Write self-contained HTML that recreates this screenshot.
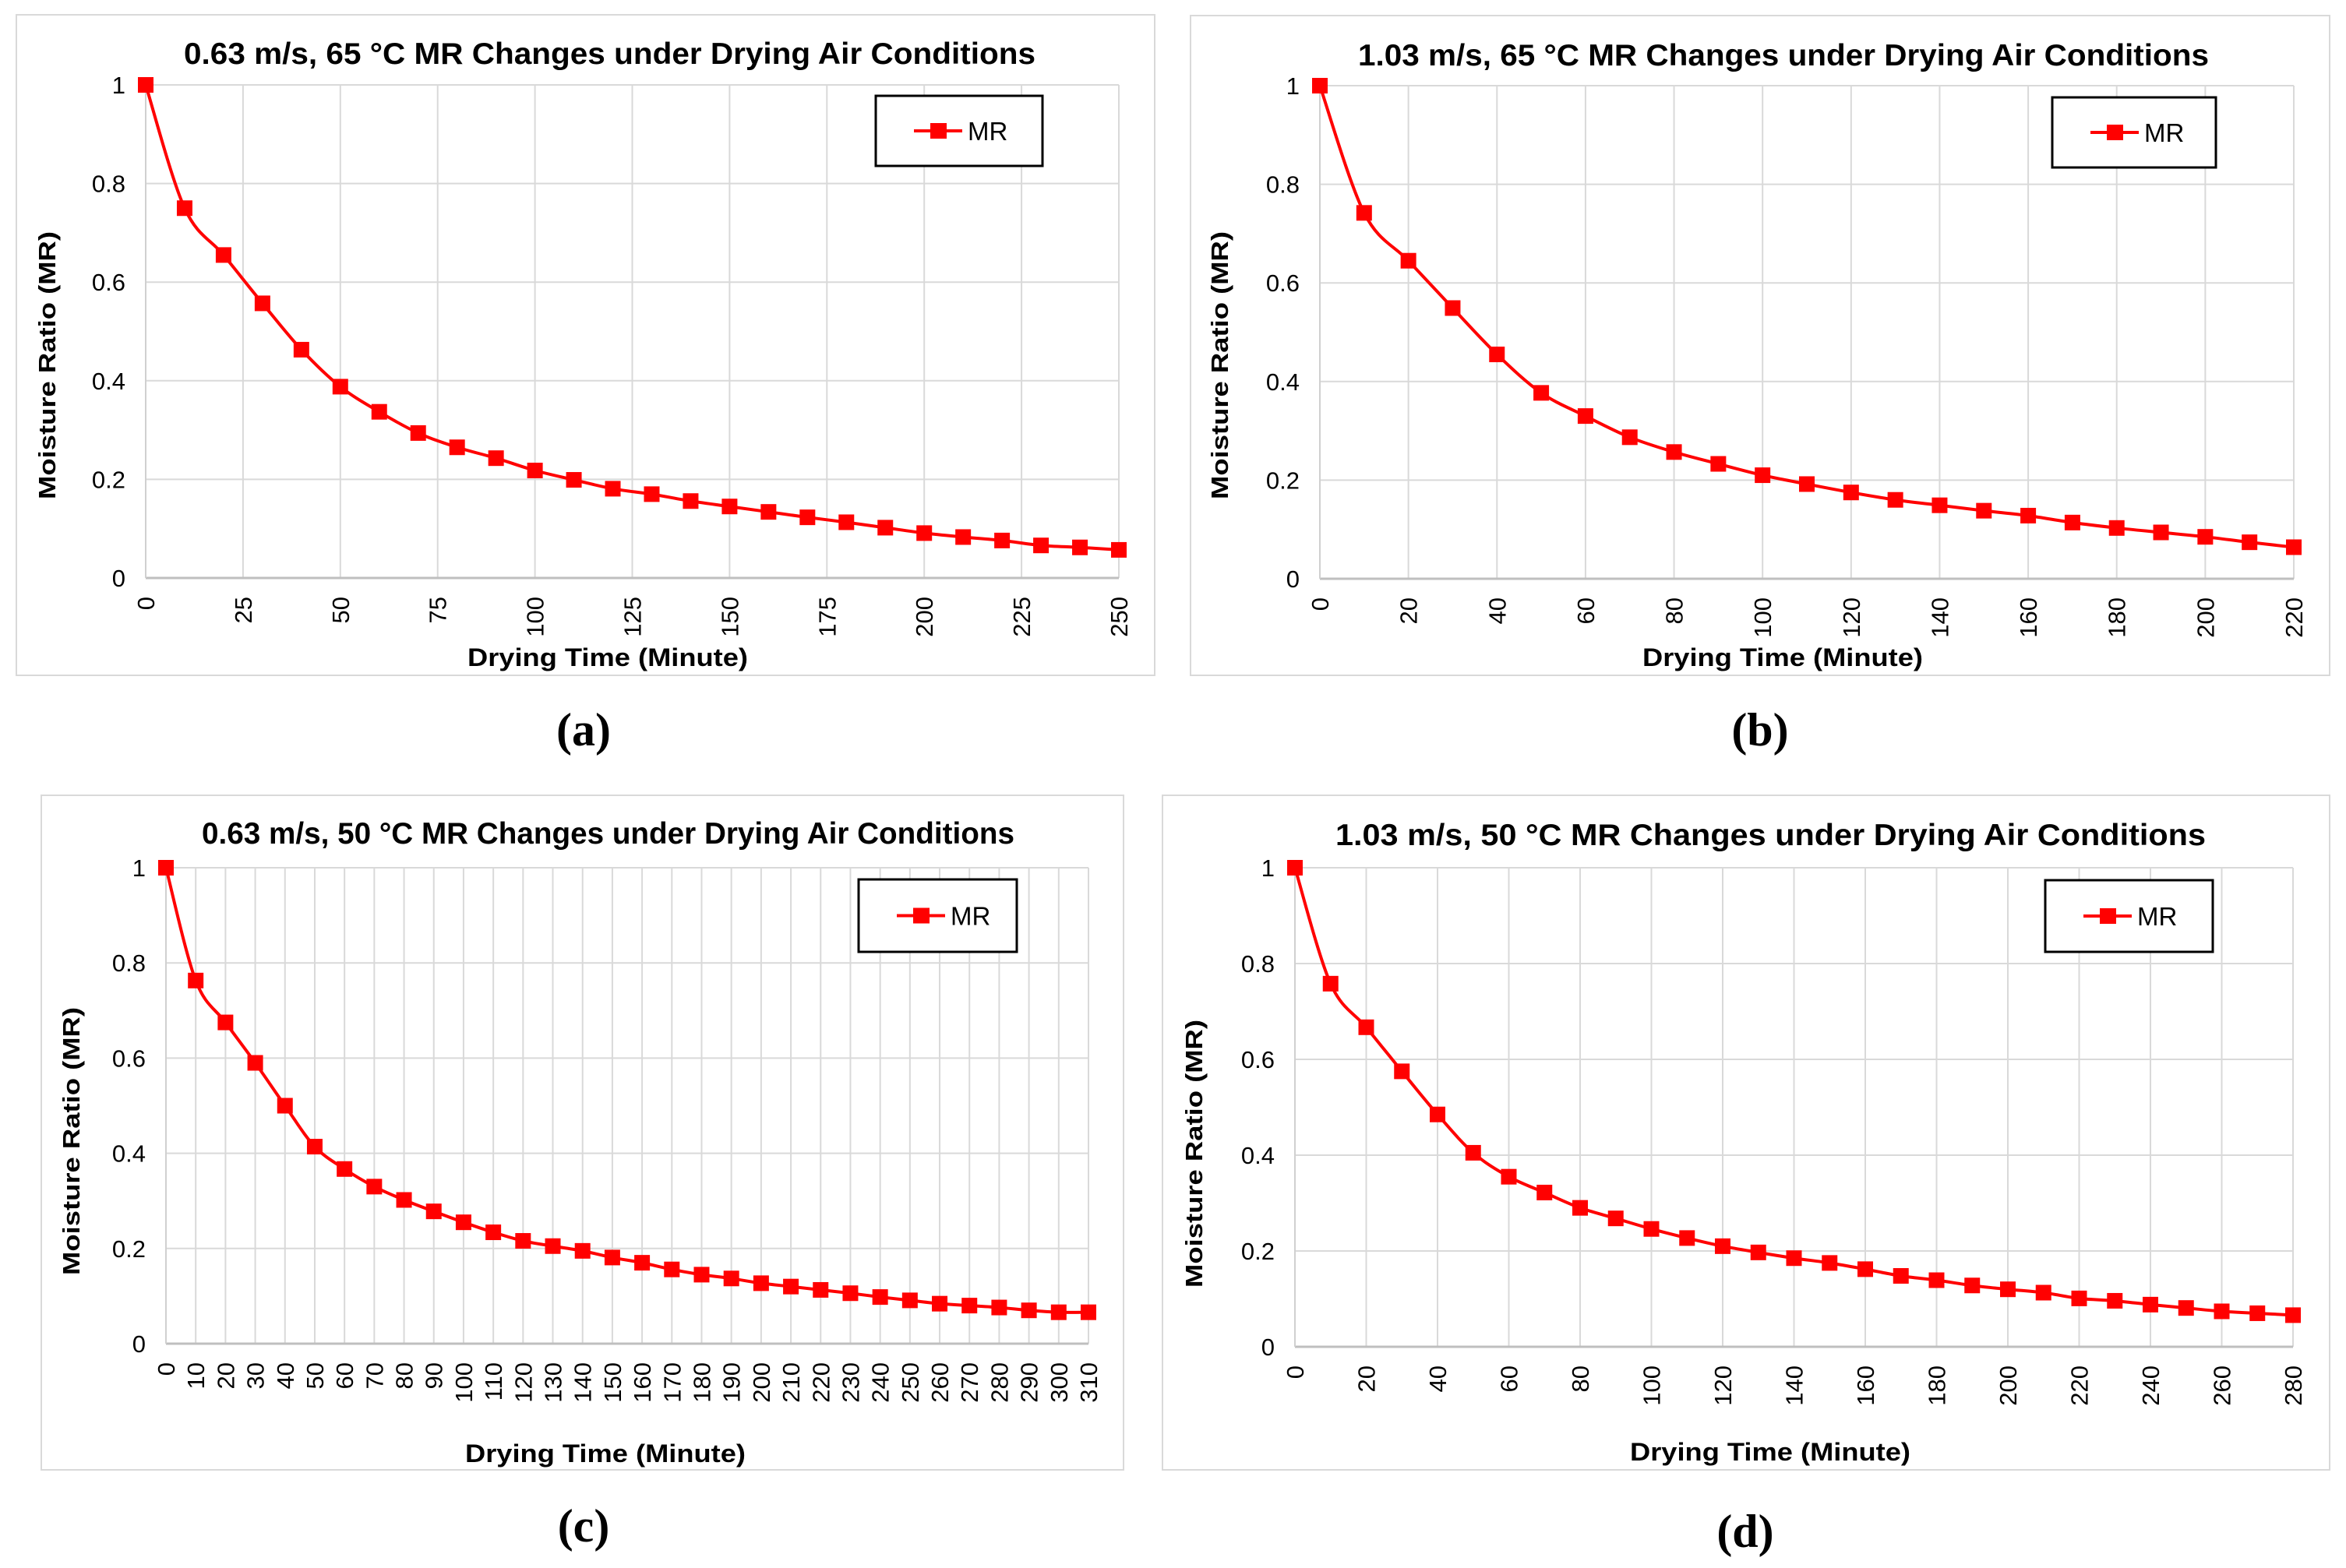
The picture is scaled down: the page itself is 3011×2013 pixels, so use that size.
<!DOCTYPE html>
<html><head><meta charset="utf-8">
<style>
html,body{margin:0;padding:0;background:#fff;}
svg{display:block;}
text{font-family:"Liberation Sans",Arial,sans-serif;}
</style></head>
<body>
<svg id="fig" width="3011" height="2013" viewBox="0 0 3011 2013" xmlns="http://www.w3.org/2000/svg"></svg>
<script>
// Data arrays
const xA = [0,10,20,30,40,50,60,70,80,90,100,110,120,130,140,150,160,170,180,190,200,210,220,230,240,250];
const mrA = [1,0.75,0.655,0.557,0.463,0.388,0.337,0.294,0.265,0.243,0.218,0.199,0.181,0.170,0.156,0.145,0.134,0.123,0.113,0.102,0.091,0.083,0.076,0.066,0.062,0.057];
const ticksA = [0,25,50,75,100,125,150,175,200,225,250];

const xB = [0,10,20,30,40,50,60,70,80,90,100,110,120,130,140,150,160,170,180,190,200,210,220];
const mrB = [1,0.742,0.645,0.549,0.455,0.377,0.330,0.287,0.257,0.233,0.210,0.192,0.175,0.160,0.149,0.138,0.128,0.114,0.103,0.094,0.085,0.074,0.064];
const ticksB = [0,20,40,60,80,100,120,140,160,180,200,220];

const xC = [0,10,20,30,40,50,60,70,80,90,100,110,120,130,140,150,160,170,180,190,200,210,220,230,240,250,260,270,280,290,300,310];
const mrC = [1,0.763,0.675,0.590,0.500,0.414,0.367,0.330,0.302,0.278,0.255,0.234,0.216,0.205,0.195,0.181,0.170,0.156,0.145,0.137,0.127,0.120,0.113,0.106,0.098,0.091,0.084,0.080,0.076,0.070,0.066,0.066];
const ticksC = [0,10,20,30,40,50,60,70,80,90,100,110,120,130,140,150,160,170,180,190,200,210,220,230,240,250,260,270,280,290,300,310];

const xD = [0,10,20,30,40,50,60,70,80,90,100,110,120,130,140,150,160,170,180,190,200,210,220,230,240,250,260,270,280];
const mrD = [1,0.758,0.667,0.575,0.485,0.405,0.355,0.322,0.290,0.268,0.246,0.227,0.210,0.197,0.185,0.175,0.162,0.148,0.139,0.128,0.120,0.113,0.101,0.096,0.088,0.081,0.074,0.070,0.066];
const ticksD = [0,20,40,60,80,100,120,140,160,180,200,220,240,260,280];

const yTicks = [0,0.2,0.4,0.6,0.8,1];
const yTickLabels = ["0","0.2","0.4","0.6","0.8","1"];

const NS = "http://www.w3.org/2000/svg";
const svg = document.getElementById('fig');
function mk(tag, attrs, parent){
  const e = document.createElementNS(NS, tag);
  for (const k in attrs) e.setAttribute(k, attrs[k]);
  (parent||svg).appendChild(e);
  return e;
}

function panel(c){
  const g = mk('g', {});
  
  
  const frame = mk('rect', {x:c.fx1, y:c.fy1, width:c.fx2-c.fx1, height:c.fy2-c.fy1, fill:'#fff', stroke:'#d9d9d9', 'stroke-width':2}, g);
  
  
  const sx = v => c.x0 + (v - 0) / (c.xmax - 0) * (c.x1 - c.x0);
  const sy = v => c.y0 - v * (c.y0 - c.y1);
  // vertical gridlines
  for (let v = c.gstep; v <= c.xmax + 1e-9; v += c.gstep){
    const l = mk('line', {x1:sx(v), x2:sx(v), y1:c.y1, y2:c.y0, stroke:'#d9d9d9', 'stroke-width':2}, g);
    
    
  }
  // horizontal gridlines and y labels
  yTicks.forEach((v,i) => {
    if (v > 0){
      const l = mk('line', {x1:c.x0, x2:c.x1, y1:sy(v), y2:sy(v), stroke:'#d9d9d9', 'stroke-width':2}, g);
      
      
    }
    const t = mk('text', {x:c.x0-26, y:sy(v)+11, 'text-anchor':'end', 'font-size':31, fill:'#000'}, g);
    t.textContent = yTickLabels[i];
    
    
  });
  // axes
  const ax = mk('line', {x1:c.x0, x2:c.x1, y1:c.y0, y2:c.y0, stroke:'#bfbfbf', 'stroke-width':3}, g);
  
  
  const ay = mk('line', {x1:c.x0, x2:c.x0, y1:c.y1, y2:c.y0, stroke:'#d0d0d0', 'stroke-width':2}, g);
  
  
  // x tick labels
  c.ticks.forEach(v => {
    const tx = sx(v) + 11, ty = c.y0 + 24;
    const t = mk('text', {x:tx, y:ty, 'text-anchor':'end', 'font-size':31, fill:'#000', transform:'rotate(-90 '+tx+' '+ty+')'}, g);
    t.textContent = String(v);
    
    
  });
  // smooth line (Catmull-Rom)
  const pts = c.xs.map((x,i) => [sx(x), sy(c.ys[i])]);
  let d = 'M' + pts[0][0] + ' ' + pts[0][1];
  for (let i=0;i<pts.length-1;i++){
    const p0 = pts[i-1]||pts[i], p1 = pts[i], p2 = pts[i+1], p3 = pts[i+2]||p2;
    const t = 0.5/3;
    const c1 = [p1[0]+(p2[0]-p0[0])*t, p1[1]+(p2[1]-p0[1])*t];
    const c2 = [p2[0]-(p3[0]-p1[0])*t, p2[1]-(p3[1]-p1[1])*t];
    d += ' C'+c1[0]+' '+c1[1]+' '+c2[0]+' '+c2[1]+' '+p2[0]+' '+p2[1];
  }
  const path = mk('path', {d:d, fill:'none', stroke:'#ff0000', 'stroke-width':4}, g);
  
  
  pts.forEach(p => {
    const r = mk('rect', {x:p[0]-10, y:p[1]-10, width:20, height:20, fill:'#ff0000'}, g);
    
    
  });
  // title
  const title = mk('text', {x:c.tx1, y:c.tb, 'font-size':39, 'font-weight':'bold', textLength:c.tx2-c.tx1, lengthAdjust:'spacingAndGlyphs', fill:'#000'}, g);
  title.textContent = c.title;
  
  
  // axis titles
  const xt = mk('text', {x:c.xtc-180, y:c.xtb, 'font-size':32, 'font-weight':'bold', textLength:360, lengthAdjust:'spacingAndGlyphs', fill:'#000'}, g);
  xt.textContent = 'Drying Time (Minute)';
  
  
  const yx = c.ytx + 11, yy = c.ytc;
  const yt = mk('text', {x:yx - 172, y:yy, 'font-size':31, 'font-weight':'bold', textLength:344, lengthAdjust:'spacingAndGlyphs', fill:'#000', transform:'rotate(-90 '+yx+' '+yy+')'}, g);
  yt.setAttribute('x', yx - 172);
  yt.textContent = 'Moisture Ratio (MR)';
  
  
  // legend
  const lg = mk('g', {}, g);
  
  
  mk('rect', {x:c.lx, y:c.ly, width:c.lw, height:c.lh, fill:'#fff', stroke:'#000', 'stroke-width':3}, lg);
  const ly = c.ly + c.lh/2;
  mk('line', {x1:c.lx+49, x2:c.lx+111, y1:ly, y2:ly, stroke:'#ff0000', 'stroke-width':4}, lg);
  mk('rect', {x:c.lx+70, y:ly-10, width:21, height:20, fill:'#ff0000'}, lg);
  const lt = mk('text', {x:c.lx+118, y:ly+12, 'font-size':33, fill:'#000'}, lg);
  lt.textContent = 'MR';
  
  
  // panel label
  const pl = mk('text', {x:c.plx, y:c.ply, 'text-anchor':'middle', 'font-size':60, 'font-weight':'bold', fill:'#000', style:'font-family:"Liberation Serif",serif'});
  pl.textContent = '(' + c.id + ')';
  
  
}

panel({id:'a', xs:xA, ys:mrA, ticks:ticksA, xmax:250, gstep:25,
  fx1:21, fy1:19, fx2:1482, fy2:867, x0:187, x1:1436, y1:109, y0:742,
  title:'0.63 m/s, 65 °C MR Changes under Drying Air Conditions', tx1:236, tx2:1329, tb:82,
  xtc:780, xtb:855, ytx:60, ytc:469, lx:1124, ly:123, lw:214, lh:90, plx:749, ply:957});
panel({id:'b', xs:xB, ys:mrB, ticks:ticksB, xmax:220, gstep:20,
  fx1:1528, fy1:20, fx2:2990, fy2:867, x0:1694, x1:2944, y1:110, y0:743,
  title:'1.03 m/s, 65 °C MR Changes under Drying Air Conditions', tx1:1743, tx2:2835, tb:84,
  xtc:2288, xtb:855, ytx:1565, ytc:469, lx:2634, ly:125, lw:210, lh:90, plx:2259, ply:957});
panel({id:'c', xs:xC, ys:mrC, ticks:ticksC, xmax:310, gstep:10,
  fx1:53, fy1:1021, fx2:1442, fy2:1887, x0:213, x1:1397, y1:1114, y0:1725,
  title:'0.63 m/s, 50 °C MR Changes under Drying Air Conditions', tx1:259, tx2:1302, tb:1083,
  xtc:777, xtb:1877, ytx:91, ytc:1465, lx:1102, ly:1129, lw:203, lh:93, plx:749, ply:1979});
panel({id:'d', xs:xD, ys:mrD, ticks:ticksD, xmax:280, gstep:20,
  fx1:1492, fy1:1021, fx2:2990, fy2:1887, x0:1662, x1:2943, y1:1114, y0:1729,
  title:'1.03 m/s, 50 °C MR Changes under Drying Air Conditions', tx1:1714, tx2:2831, tb:1085,
  xtc:2272, xtb:1875, ytx:1532, ytc:1481, lx:2625, ly:1130, lw:215, lh:92, plx:2240, ply:1986});
</script>
</body></html>
